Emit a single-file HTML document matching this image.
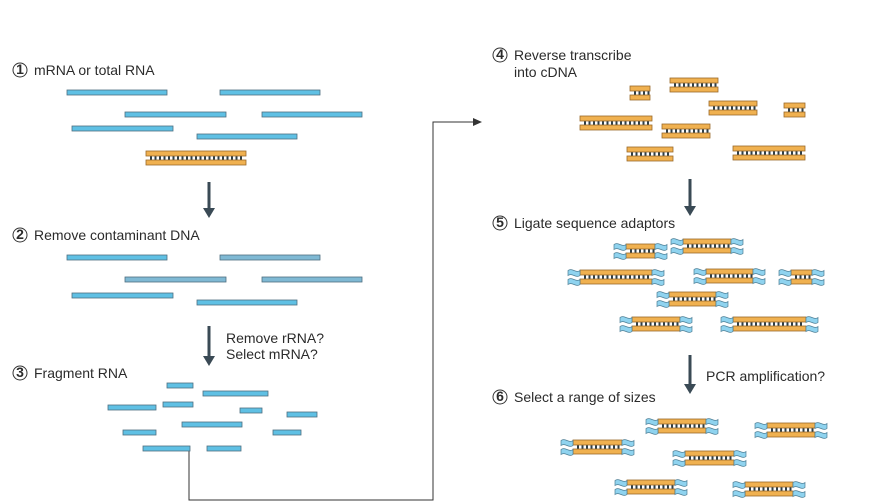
<!DOCTYPE html>
<html><head><meta charset="utf-8"><style>
body{margin:0;background:#fff;width:870px;height:502px;overflow:hidden;font-family:"Liberation Sans","DejaVu Sans",sans-serif}
svg{display:block}
text{font-family:"Liberation Sans","DejaVu Sans",sans-serif;font-size:14px;fill:#2b2b2b}
</style></head><body>
<svg id="s" width="870" height="502" viewBox="0 0 870 502">
<defs>
<marker id="ah" markerWidth="10" markerHeight="10" refX="8" refY="5" orient="auto" markerUnits="userSpaceOnUse"><path d="M0,1 L9,5 L0,9 z" fill="#333"/></marker>
</defs>
<polyline points="189,450 189,500 433,500 433,122 481,122" fill="none" stroke="#333" stroke-width="1" marker-end="url(#ah)"/>
</svg>
<script>
const S=document.getElementById('s');const NS='http://www.w3.org/2000/svg';
function el(t,a,p){const e=document.createElementNS(NS,t);for(const k in a)e.setAttribute(k,a[k]);(p||S).appendChild(e);return e;}
function label(n,x,y,lines,name){
 const g=el('g',{});
 
 
 el('circle',{cx:x+7,cy:y-5,r:7,fill:'none',stroke:'#333','stroke-width':1},g);
 const t=el('text',{x:x+7,y:y-1,'text-anchor':'middle','font-size':'11px','font-weight':'bold'},g);t.textContent=n;
 lines.forEach((l,i)=>{const tt=el('text',{x:x+21,y:y+i*17},g);tt.textContent=l;});
}
function blue(x1,x2,y,c){
 const r=el('rect',{x:x1,y:y,width:x2-x1,height:5,fill:c||'#5fc0e4',stroke:'#4f6f80','stroke-width':0.8});
 
 
}
function ds(x1,x2,y,ad){
 const g=el('g',{});
 
 
 el('rect',{x:x1,y:y+4,width:x2-x1,height:6,fill:'#fff'},g);
 for(let i=4;i<x2-x1-2;i+=4.5)el('rect',{x:x1+i,y:y+4,width:2,height:6,fill:'#2e3f48'},g);
 el('rect',{x:x1,y:y,width:x2-x1,height:5,fill:'#f0b150',stroke:'#9a6a2a','stroke-width':0.8},g);
 el('rect',{x:x1,y:y+9,width:x2-x1,height:5,fill:'#f0b150',stroke:'#9a6a2a','stroke-width':0.8},g);
 if(ad){[[x1-12,x1],[x2,x2+12]].forEach(([a,b])=>{[y,y+9].forEach(yy=>{
  el('path',{d:`M${a},${yy+0.5} c4,-3 8,3 12,0 v5 c-4,3 -8,-3 -12,0 z`,fill:'#8fd3ef',stroke:'#4f7f95','stroke-width':0.7},g);});});}
}
function arrow(x,y1,y2,name){
 const g=el('g',{});
 el('line',{x1:x,y1:y1,x2:x,y2:y2-8,stroke:'#3a4a55','stroke-width':3},g);
 el('path',{d:`M${x-6},${y2-10} L${x+6},${y2-10} L${x},${y2} z`,fill:'#3a4a55'},g);
}
function txt(x,y,s,name){const t=el('text',{x:x,y:y});t.textContent=s;}

label('1',13,75,['mRNA or total RNA'],'step-1-label');
[[67,167,90],[220,320,90],[125,226,112],[262,362,112],[72,173,126],[197,297,134]].forEach(a=>blue(...a));
ds(146,246,151,false);
arrow(209,182,218,'arrow-step1-2');
label('2',13,240,['Remove contaminant DNA'],'step-2-label');
[[67,167,255],[220,320,255,'#7fb9d4'],[125,226,277,'#7fb9d4'],[262,362,277,'#7fb9d4'],[72,173,293],[197,297,300]].forEach(a=>blue(...a));
arrow(209,326,366,'arrow-step2-3');
txt(226,343,'Remove rRNA?','remove-rrna-text');txt(226,359,'Select mRNA?','select-mrna-text');
label('3',13,378,['Fragment RNA'],'step-3-label');
[[167,193,383],[203,268,391],[108,156,405],[163,193,402],[240,262,408],[287,317,412],[182,242,422],[123,156,430],[273,301,430],[143,190,446],[207,241,446]].forEach(a=>blue(...a));
label('4',493,60,['Reverse transcribe','into cDNA'],'step-4-label');
[[630,650,86],[670,718,78],[709,757,101],[784,805,103],[580,652,116],[662,710,124],[627,673,147],[733,805,146]].forEach(a=>ds(a[0],a[1],a[2],false));
arrow(690,179,216,'arrow-step4-5');
label('5',493,228,['Ligate sequence adaptors'],'step-5-label');
[[626,655,244],[683,731,239],[580,652,270],[706,753,269],[791,812,270],[669,716,292],[632,680,317],[733,806,317]].forEach(a=>ds(a[0],a[1],a[2],true));
arrow(690,355,394,'arrow-step5-6');
txt(706,381,'PCR amplification?','pcr-amplification-text');
label('6',493,402,['Select a range of sizes'],'step-6-label');
[[573,622,440],[658,706,419],[767,815,423],[685,734,451],[627,675,480],[745,793,482]].forEach(a=>ds(a[0],a[1],a[2],true));
</script>
</body></html>
